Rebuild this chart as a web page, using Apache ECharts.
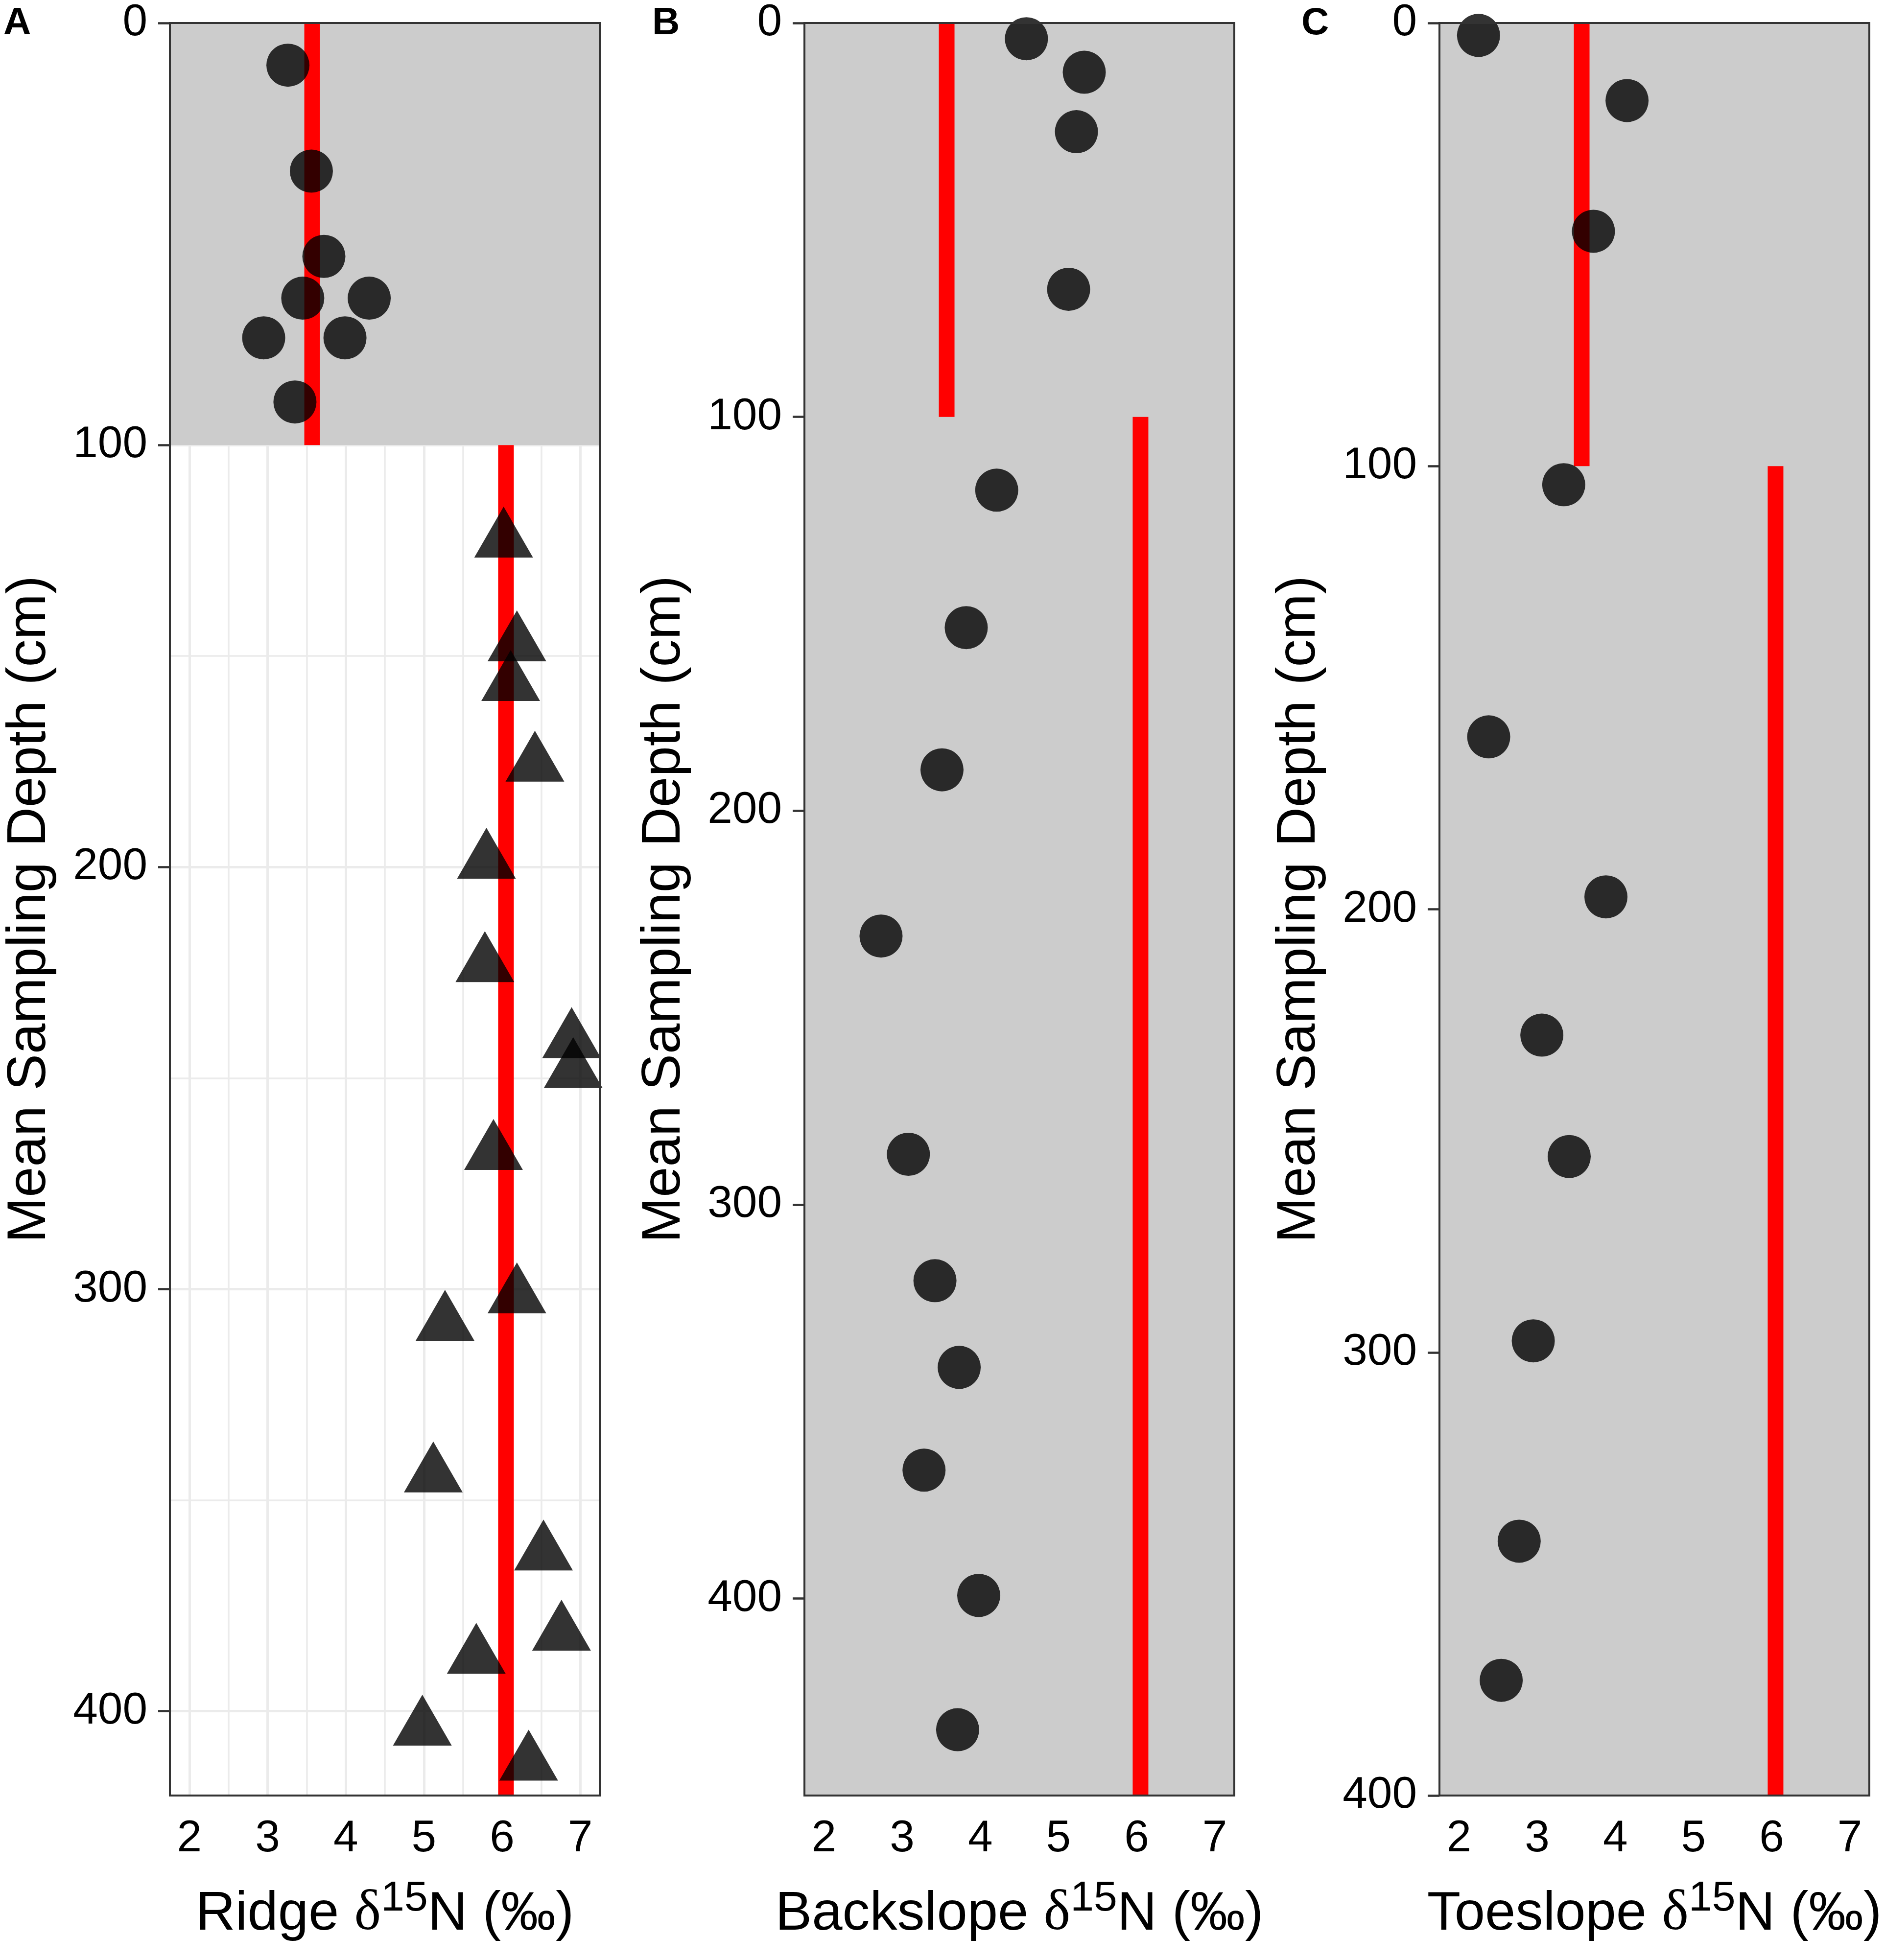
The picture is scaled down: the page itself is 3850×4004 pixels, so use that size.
<!DOCTYPE html>
<html>
<head>
<meta charset="utf-8">
<script src="https://cdn.jsdelivr.net/npm/echarts@6/dist/echarts.min.js"></script>
<style>html,body{margin:0;padding:0;background:#fff}#c{width:3850px;height:4004px}</style>
</head>
<body>
<div id="c"></div>
<script>
// ---------- data ----------
const xTicks = [2, 3, 4, 5, 6, 7];
const depthTicks = [0, 100, 200, 300, 400];

// Ridge, 0-100 cm (circles)
const ridgeTopX     = [3.26, 3.56, 3.72, 3.45, 4.30, 2.95, 3.99, 3.35];
const ridgeTopDepth = [10.0, 35.1, 55.3, 65.2, 65.2, 74.6, 74.6, 89.8];
// Ridge, >100 cm (triangles)
const ridgeSubX     = [6.02, 6.19, 6.11, 6.42, 5.80, 5.78, 6.89, 6.91, 5.89, 6.19, 5.27, 5.12, 6.53, 6.76, 5.67, 4.98, 6.34];
const ridgeSubDepth = [122.6, 147.2, 156.6, 175.7, 198.7, 223.2, 241.2, 248.3, 267.7, 301.7, 308.2, 344.1, 362.6, 381.6, 387.1, 404.1, 412.4];
// Backslope
const backslopeX     = [4.59, 5.33, 5.23, 5.13, 4.21, 3.82, 3.51, 2.73, 3.08, 3.42, 3.73, 3.28, 3.98, 3.71];
const backslopeDepth = [4.0, 12.5, 27.6, 67.6, 118.6, 153.5, 189.6, 231.8, 287.2, 319.3, 341.3, 367.4, 399.2, 433.3];
// Toeslope
const toeslopeX     = [2.25, 4.15, 3.72, 3.34, 2.38, 3.88, 3.06, 3.41, 2.95, 2.77, 2.54];
const toeslopeDepth = [2.8, 17.5, 47.0, 104.2, 161.1, 197.2, 228.4, 255.8, 297.4, 342.6, 374.0];

// Ridge reference means (red segments)
const refTopMean = 3.57;
const refSubMean = 6.05;
const layerBreak = 100;

// per-panel settings
const panelLetters = ['A', 'B', 'C'];
const siteNames = ['Ridge', 'Backslope', 'Toeslope'];
const depthMax = [420, 450, 400];
const shadeEnd = [100, 450, 400];

// ---------- chart ----------
const FONT = 'Liberation Sans';
const zip = (xs, ys) => xs.map((x, i) => [x, ys[i]]);
const gridLeft = [347, 1643, 2940];

const grids = gridLeft.map(l => ({
  left: l, top: 47, width: 878, height: 3621,
  show: true, backgroundColor: 'transparent',
  borderColor: '#333333', borderWidth: 4, z: 10
}));

const xAxes = siteNames.map((nm, i) => ({
  gridIndex: i, type: 'value', min: 1.75, max: 7.25,
  axisLine: {show: false},
  axisTick: {show: true, length: 24, customValues: xTicks, lineStyle: {color: '#333333', width: 4.5}},
  axisLabel: {customValues: xTicks, margin: 43, fontSize: 91, fontFamily: FONT, color: '#000'},
  splitLine: {show: i === 0, lineStyle: {color: '#EBEBEB', width: 5}},
  minorTick: {show: false, splitNumber: 2},
  minorSplitLine: {show: i === 0, lineStyle: {color: '#EBEBEB', width: 3.5}},
  name: '{t|' + nm + ' }{d|\u03B4}{s|15}{t|N (\u2030)}',
  nameLocation: 'middle', nameGap: 168,
  nameTextStyle: {
    fontFamily: FONT, fontSize: 112, color: '#000',
    rich: {
      t: {fontFamily: FONT, fontSize: 112, color: '#000', lineHeight: 150},
      d: {fontFamily: 'Liberation Serif', fontSize: 116, color: '#000', lineHeight: 150},
      s: {fontFamily: FONT, fontSize: 86, color: '#000', lineHeight: 70, verticalAlign: 'top'}
    }
  }
}));

const yAxes = siteNames.map((nm, i) => ({
  gridIndex: i, type: 'value', inverse: true, min: 0, max: depthMax[i],
  axisLine: {show: false},
  axisTick: {show: true, length: 24, customValues: depthTicks, lineStyle: {color: '#333333', width: 4.5}},
  axisLabel: {customValues: depthTicks, margin: 46, fontSize: 91, fontFamily: FONT, color: '#000'},
  splitLine: {show: i === 0, lineStyle: {color: '#EBEBEB', width: 5}},
  minorTick: {show: false, splitNumber: 2},
  minorSplitLine: {show: i === 0, lineStyle: {color: '#EBEBEB', width: 3.5}},
  name: 'Mean Sampling Depth (cm)', nameLocation: 'middle', nameRotate: 90, nameGap: 230,
  nameTextStyle: {fontFamily: FONT, fontSize: 112, color: '#000'}
}));

const series = [];
const pointStyle = {color: '#000000', opacity: 0.8};
for (let i = 0; i < 3; i++) {
  series.push({
    type: 'line', xAxisIndex: i, yAxisIndex: i, z: 2, silent: true,
    showSymbol: false, symbol: 'none',
    lineStyle: {color: '#FF0000', width: 32, cap: 'butt'},
    data: [[refTopMean, 0], [refTopMean, layerBreak]],
    markArea: {silent: true, itemStyle: {color: '#CCCCCC'}, data: [[{yAxis: 0}, {yAxis: shadeEnd[i]}]]}
  });
  series.push({
    type: 'line', xAxisIndex: i, yAxisIndex: i, z: 2, silent: true,
    showSymbol: false, symbol: 'none',
    lineStyle: {color: '#FF0000', width: 32, cap: 'butt'},
    data: [[refSubMean, layerBreak], [refSubMean, depthMax[i]]]
  });
}
series.push({type: 'scatter', xAxisIndex: 0, yAxisIndex: 0, z: 3, symbol: 'circle', symbolSize: 88,
  itemStyle: pointStyle, data: zip(ridgeTopX, ridgeTopDepth)});
series.push({type: 'scatter', xAxisIndex: 0, yAxisIndex: 0, z: 3, symbol: 'triangle', symbolSize: [120, 104],
  symbolOffset: [0, -17], itemStyle: pointStyle, data: zip(ridgeSubX, ridgeSubDepth)});
series.push({type: 'scatter', xAxisIndex: 1, yAxisIndex: 1, z: 3, symbol: 'circle', symbolSize: 88,
  itemStyle: pointStyle, data: zip(backslopeX, backslopeDepth)});
series.push({type: 'scatter', xAxisIndex: 2, yAxisIndex: 2, z: 3, symbol: 'circle', symbolSize: 88,
  itemStyle: pointStyle, data: zip(toeslopeX, toeslopeDepth)});

const titleLeft = [7, 1332, 2658];
const titles = panelLetters.map((t, i) => ({
  text: t, left: titleLeft[i], top: 9, padding: 0,
  textStyle: {fontFamily: FONT, fontWeight: 'bold', fontSize: 78, color: '#000'}
}));

const chart = echarts.init(document.getElementById('c'), null, {renderer: 'canvas', width: 3850, height: 4004});
chart.setOption({
  animation: false,
  backgroundColor: '#ffffff',
  title: titles,
  grid: grids,
  xAxis: xAxes,
  yAxis: yAxes,
  series: series
});
</script>
</body>
</html>
